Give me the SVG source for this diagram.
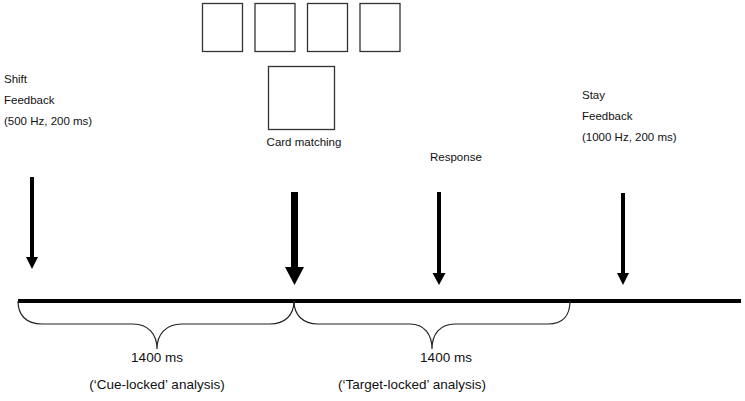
<svg xmlns="http://www.w3.org/2000/svg" width="745" height="401" viewBox="0 0 745 401">
<style>
.t{font-family:"Liberation Sans",Arial,sans-serif;font-size:11.5px;fill:#111}
.b{font-family:"Liberation Sans",Arial,sans-serif;font-size:13.5px;fill:#111}
.card{fill:#fff;stroke:#333;stroke-width:1.3}
.brace{fill:none;stroke:#222;stroke-width:1.2}
.ar{fill:#000}
</style>
<rect width="745" height="401" fill="#fff"/>
<g id="cards">
<rect class="card" x="202.5" y="3.5" width="40" height="48"/>
<rect class="card" x="255" y="3.5" width="40" height="48"/>
<rect class="card" x="307.5" y="3.5" width="40" height="48"/>
<rect class="card" x="360" y="3.5" width="40" height="48"/>
<rect class="card" x="268.5" y="66.5" width="66" height="63"/>
<text class="t" x="304" y="146" text-anchor="middle">Card matching</text>
</g>
<g id="shift">
<text class="t" x="4" y="83">Shift</text>
<text class="t" x="4" y="104">Feedback</text>
<text class="t" x="4" y="125">(500 Hz, 200 ms)</text>
</g>
<g id="stay">
<text class="t" x="582" y="99">Stay</text>
<text class="t" x="582" y="120">Feedback</text>
<text class="t" x="582" y="141">(1000 Hz, 200 ms)</text>
</g>
<g id="response">
<text class="t" x="430" y="161">Response</text>
</g>
<g id="timeline">
<rect x="18" y="299" width="723" height="4" fill="#000"/>
</g>
<g id="connectors">
<rect class="ar" x="30" y="177" width="4" height="82"/>
<polygon class="ar" points="26,257 38,257 32,269"/>
<rect class="ar" x="291" y="192" width="7" height="77"/>
<polygon class="ar" points="285,267 304,267 294.5,285"/>
<rect class="ar" x="437" y="192" width="4" height="82"/>
<polygon class="ar" points="432.5,273 445.5,273 439,285"/>
<rect class="ar" x="621" y="193" width="4" height="81"/>
<polygon class="ar" points="617,273 629,273 623,285"/>
</g>
<g id="cue-brace">
<path class="brace" d="M18,301 C18,315 26,324 42,324 L133,324 C148,324 157,334 157,349 C157,334 166,324 182,324 L270,324 C285,324 294,315 294,301"/>
<text class="b" x="157" y="362" text-anchor="middle">1400 ms</text>
<text class="b" x="157" y="389" text-anchor="middle">(‘Cue-locked’ analysis)</text>
</g>
<g id="target-brace">
<path class="brace" d="M294,301 C294,315 303,324 318,324 L410,324 C424,324 432,334 432,349 C432,334 440,324 455,324 L548,324 C563,324 570,315 570,301"/>
<text class="b" x="446" y="362" text-anchor="middle">1400 ms</text>
<text class="b" x="412" y="389" text-anchor="middle">(‘Target-locked’ analysis)</text>
</g>
</svg>
